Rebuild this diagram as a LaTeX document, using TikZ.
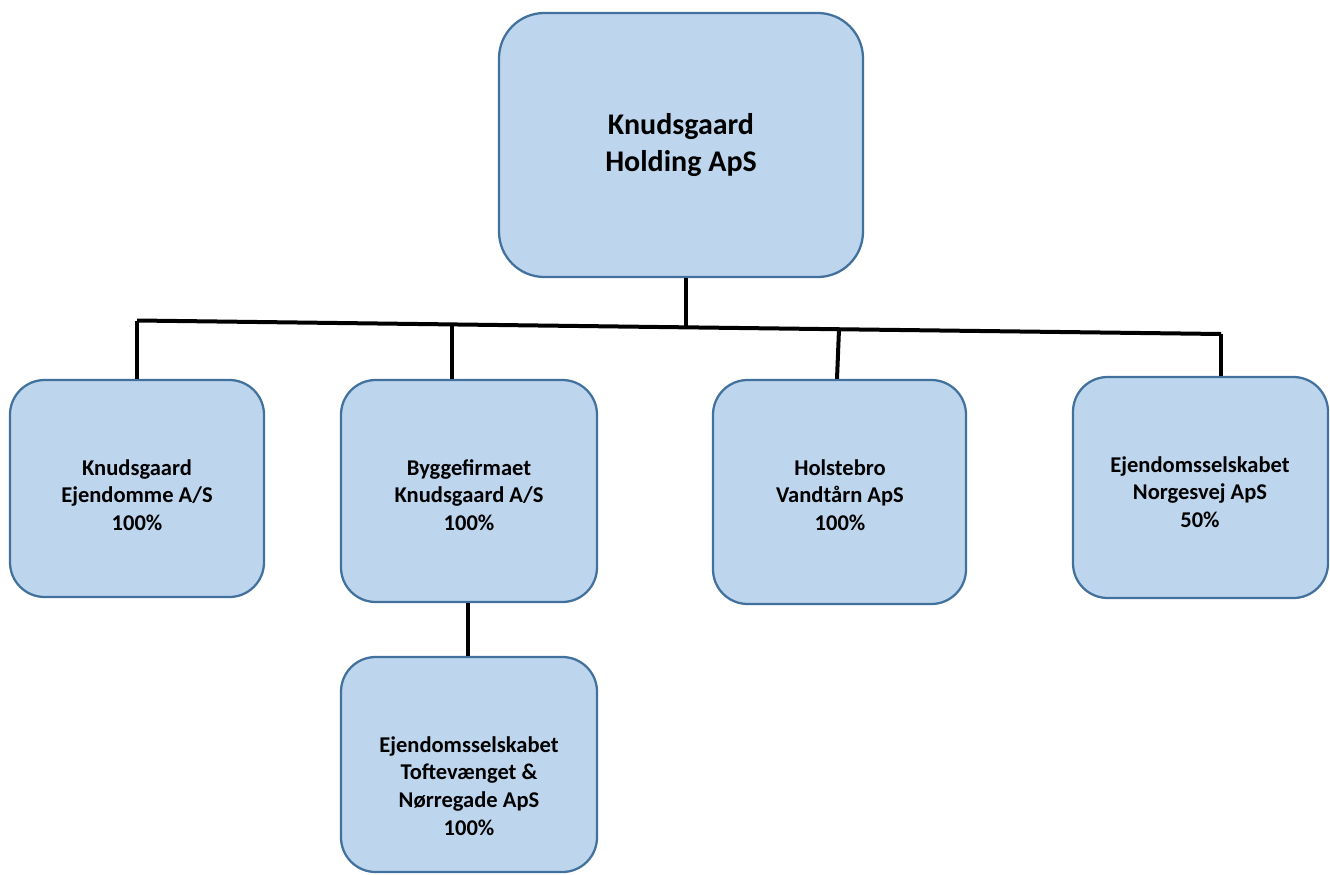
\documentclass[tikz,border=0pt]{standalone}
\usepackage{fontspec}
\setmainfont{Carlito}
\usetikzlibrary{calc}
\definecolor{boxfill}{RGB}{189,214,238}
\definecolor{boxline}{RGB}{65,113,156}
\tikzset{
  orgbox/.style={draw=boxline, fill=boxfill, line width=1.7pt, rounded corners=26pt, inner sep=0pt},
  smalltxt/.style={align=center, font=\fontsize{16.9}{20.8}\selectfont\bfseries, inner sep=0pt},
  bigtxt/.style={align=center, font=\fontsize{22.5}{27.5}\selectfont\bfseries, inner sep=0pt},
  conn/.style={line width=3pt, black}
}
\begin{document}
\begin{tikzpicture}[x=0.75pt,y=-0.75pt]
\useasboundingbox (0,0) rectangle (1330,874);
% boxes
\node[orgbox, rounded corners=34pt, minimum width=364*0.75pt, minimum height=264*0.75pt] (top) at (681,145) {};
\node[orgbox, minimum width=254*0.75pt, minimum height=217*0.75pt] (b1) at (137,488.5) {};
\node[orgbox, minimum width=256*0.75pt, minimum height=222*0.75pt] (b2) at (469,491) {};
\node[orgbox, minimum width=253*0.75pt, minimum height=224*0.75pt] (b3) at (839.5,492) {};
\node[orgbox, minimum width=255*0.75pt, minimum height=221*0.75pt] (b4) at (1200.5,487.5) {};
\node[orgbox, minimum width=256*0.75pt, minimum height=215*0.75pt] (b5) at (469,764.5) {};
% texts
\node[bigtxt] (t0) at (681,145) {Knudsgaard\\Holding ApS};
\node[smalltxt] (t1) at (137,495) {Knudsgaard\\Ejendomme A/S\\100\%};
\node[smalltxt] (t2) at (469,495) {Byggefirmaet\\Knudsgaard A/S\\100\%};
\node[smalltxt] (t3) at (840,495) {Holstebro\\Vandtårn ApS\\100\%};
\node[smalltxt] (t4) at (1200,492) {Ejendomsselskabet\\Norgesvej ApS\\50\%};
\node[smalltxt] (t5) at (469,786) {Ejendomsselskabet\\Toftevænget \&\\Nørregade ApS\\100\%};
% connectors
\coordinate (busL) at (137,320.5);
\coordinate (busR) at (1221,334);
\coordinate (busT) at ($(busL)!{(686-137)/(1221-137)}!(busR)$);
\coordinate (busB2) at ($(busL)!{(452-137)/(1221-137)}!(busR)$);
\coordinate (busB3) at ($(busL)!{(839-137)/(1221-137)}!(busR)$);
\draw[conn] (busL) -- (busR);
\draw[conn] (top.south -| busT) -- (busT);
\draw[conn] (busL) -- (b1.north -| busL);
\draw[conn] (busB2) -- (b2.north -| busB2);
\draw[conn] (busB3) -- ([xshift=-1.5pt]b3.north -| busB3);
\draw[conn] (busR) -- (b4.north -| busR);
\draw[conn] ([xshift=-0.75pt]b2.south) -- ([xshift=-0.75pt]b5.north);
\end{tikzpicture}
\end{document}
